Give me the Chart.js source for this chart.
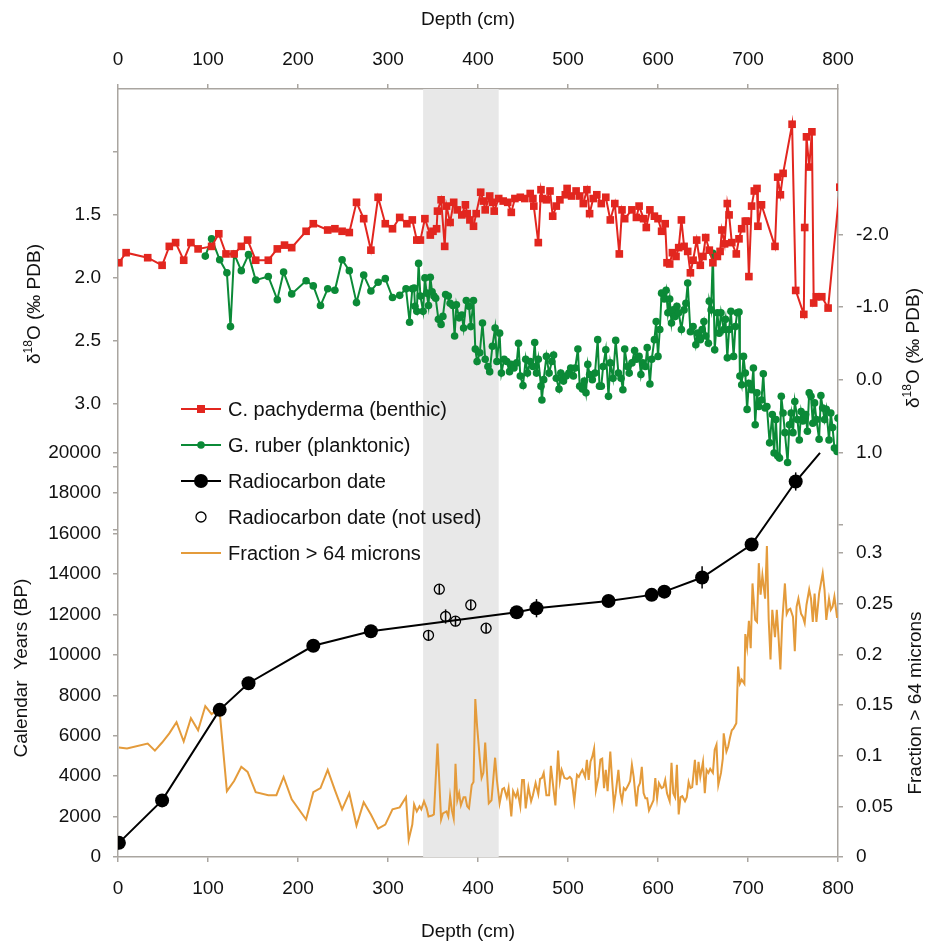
<!DOCTYPE html>
<html lang="en">
<head>
<meta charset="utf-8">
<title>Depth (cm)</title>
<script src="https://cdn.jsdelivr.net/npm/chart.js@4.4.1/dist/chart.umd.min.js"></script>
<style>
  html, body { margin: 0; padding: 0; background: #fff; }
  #grafico { display: block; }
</style>
</head>
<body>
<canvas id="grafico" width="925" height="941"></canvas>
<script>
// Datos (profundidad en cm)

// C. pachyderma (bentónico), δ18O ‰ PDB
const profBentonico = [1, 9, 33, 49, 57, 64, 73, 81, 89, 104, 112, 120, 129, 137, 144, 153, 167, 177, 185, 193,
  209, 217, 233, 241, 249, 257, 265, 273, 281, 289, 297, 305, 313, 321, 327, 332, 336, 341, 347, 350,
  354, 355, 359, 363, 365, 369, 373, 377, 382, 386, 388, 391, 395, 398, 403, 406, 408, 413, 416, 418,
  423, 428, 433, 437, 441, 447, 452, 458, 461, 462, 467, 470, 472, 476, 480, 483, 487, 491, 497, 499,
  504, 509, 513, 517, 521, 524, 528, 532, 537, 542, 547, 552, 557, 560, 563, 571, 576, 579, 584, 587,
  591, 596, 600, 604, 608, 610, 613, 616, 620, 623, 626, 629, 633, 636, 639, 643, 647, 650, 653, 657,
  661, 666, 669, 671, 674, 677, 679, 682, 687, 690, 693, 697, 699, 701, 704, 707, 710, 711, 715, 730,
  733, 736, 739, 749, 753, 762, 763, 765, 768, 771, 773, 776, 782, 789, 802];
const d18OBentonico = [1.88, 1.80, 1.84, 1.90, 1.75, 1.72, 1.86, 1.72, 1.77, 1.75, 1.65, 1.81, 1.81, 1.75, 1.70, 1.86, 1.86, 1.77, 1.74, 1.76,
  1.63, 1.57, 1.62, 1.61, 1.63, 1.64, 1.40, 1.53, 1.78, 1.36, 1.57, 1.61, 1.52, 1.57, 1.54, 1.70, 1.70, 1.53, 1.66, 1.63,
  1.61, 1.47, 1.38, 1.75, 1.43, 1.56, 1.40, 1.46, 1.50, 1.42, 1.49, 1.54, 1.59, 1.49, 1.32, 1.39, 1.46, 1.35, 1.40, 1.47,
  1.37, 1.39, 1.40, 1.48, 1.37, 1.36, 1.37, 1.33, 1.37, 1.43, 1.72, 1.30, 1.37, 1.38, 1.31, 1.51, 1.43, 1.38, 1.34, 1.29,
  1.35, 1.31, 1.35, 1.41, 1.30, 1.49, 1.37, 1.34, 1.41, 1.36, 1.54, 1.41, 1.81, 1.46, 1.53, 1.46, 1.52, 1.43, 1.53, 1.60,
  1.46, 1.51, 1.53, 1.63, 1.57, 1.88, 1.89, 1.80, 1.83, 1.76, 1.54, 1.75, 1.79, 1.96, 1.86, 1.70, 1.90, 1.83, 1.68, 1.78,
  1.88, 1.83, 1.79, 1.62, 1.73, 1.41, 1.50, 1.72, 1.81, 1.69, 1.61, 1.55, 1.55, 1.99, 1.43, 1.31, 1.29, 1.59, 1.42, 1.75,
  1.20, 1.34, 1.17, 0.78, 2.10, 2.29, 1.60, 0.88, 1.12, 0.84, 2.20, 2.15, 2.15, 2.24, 1.28];

// G. ruber (planctónico), δ18O ‰ PDB
const profPlanctonico = [97, 104, 113, 121, 125, 129, 137, 145, 153, 167, 177, 184, 193, 209, 217, 225, 233, 241, 249, 257,
  265, 273, 281, 289, 297, 305, 313, 320, 324, 327, 329, 330, 332, 334, 336, 339, 341, 343, 345, 347,
  349, 351, 353, 356, 359, 361, 364, 367, 369, 372, 374, 376, 379, 382, 384, 387, 390, 392, 395, 397,
  399, 402, 405, 408, 411, 413, 416, 419, 421, 424, 426, 429, 432, 435, 437, 440, 443, 445, 447, 450,
  453, 455, 458, 461, 463, 465, 467, 470, 471, 473, 476, 479, 482, 484, 487, 490, 492, 495, 498, 501,
  503, 506, 508, 511, 513, 516, 518, 520, 522, 524, 527, 530, 533, 535, 537, 539, 542, 545, 547, 550,
  553, 556, 559, 561, 563, 566, 568, 571, 574, 576, 579, 581, 583, 586, 588, 591, 593, 596, 598, 600,
  602, 604, 607, 609, 611, 613, 615, 617, 619, 621, 623, 626, 629, 631, 633, 636, 639, 642, 644, 647,
  649, 651, 653, 656, 657, 659, 661, 663, 666, 668, 670, 673, 675, 677, 679, 681, 684, 686, 688, 690,
  691, 693, 695, 697, 699, 701, 704, 706, 708, 710, 712, 715, 717, 719, 721, 724, 727, 729, 731, 733,
  735, 737, 739, 741, 744, 746, 748, 750, 752, 755, 757, 759, 761, 764, 766, 768, 770, 772, 774, 776,
  779, 781, 783, 785, 787, 790, 792, 794, 796, 799, 800];
const d18OPlanctonico = [-1.70, -1.94, -1.65, -1.47, -0.73, -1.73, -1.50, -1.72, -1.37, -1.42, -1.10, -1.48, -1.18, -1.36, -1.29, -1.02, -1.25, -1.23, -1.65, -1.50,
  -1.06, -1.44, -1.22, -1.34, -1.39, -1.13, -1.16, -1.25, -0.79, -1.25, -1.26, -1.01, -0.94, -1.60, -1.15, -0.94, -1.40, -1.19, -1.02, -1.41,
  -1.21, -1.15, -1.12, -0.83, -0.76, -0.87, -1.17, -1.15, -1.05, -1.02, -0.60, -1.03, -0.85, -0.89, -0.71, -1.09, -1.01, -0.73, -1.09, -0.42,
  -0.25, -0.37, -0.78, -0.28, -0.18, -0.11, -0.46, -0.71, -0.25, -0.64, -0.09, -0.28, -0.25, -0.11, -0.21, -0.16, -0.23, -0.50, -0.05, 0.08,
  -0.28, -0.09, -0.25, -0.18, -0.51, -0.09, -0.28, 0.09, 0.28, 0.00, -0.32, -0.09, -0.25, -0.34, -0.02, 0.13, -0.09, 0.02, -0.05, -0.09,
  -0.16, -0.05, -0.16, -0.42, 0.09, 0.13, 0.02, 0.18, -0.21, -0.07, 0.00, -0.09, -0.55, 0.09, 0.09, -0.18, -0.41, 0.23, -0.23, -0.02,
  -0.54, -0.09, -0.02, 0.14, -0.42, -0.18, -0.09, -0.23, -0.40, -0.28, -0.32, -0.07, -0.23, -0.18, -0.44, 0.06, -0.28, -0.55, -0.80, -0.32,
  -0.69, -1.19, -1.11, -1.23, -0.92, -1.11, -0.78, -0.96, -0.87, -1.01, -0.92, -0.69, -0.96, -1.05, -1.33, -0.66, -0.73, -0.48, -0.64, -0.55,
  -0.69, -0.80, -0.60, -0.50, -1.08, -0.96, -1.74, -0.41, -0.92, -0.64, -0.92, -0.69, -0.83, -0.30, -0.69, -0.94, -0.32, -0.73, -0.92, -0.93,
  -0.05, 0.07, -0.32, -0.09, 0.41, 0.05, 0.14, -0.16, 0.62, 0.18, 0.37, 0.28, -0.08, 0.39, 0.37, 0.87, 0.48, 1.01, 0.55, 1.05,
  1.08, 0.23, 0.46, 0.73, 1.14, 0.62, 0.46, 0.73, 0.30, 0.55, 0.83, 0.44, 0.57, 0.48, 0.71, 0.18, 0.23, 0.60, 0.32, 0.55,
  0.82, 0.22, 0.39, 0.55, 0.41, 0.83, 0.46, 0.66, 0.94, 0.99, 0.53];

// Fechas de radiocarbono usadas (años calendario BP) y su error
const profFechas = [1, 49, 113, 145, 217, 281, 443, 465, 545, 593, 607, 649, 704, 753];
const edadFechas = [700, 2800, 7280, 8600, 10450, 11170, 12110, 12310, 12670, 12970, 13130, 13830, 15460, 18580];
const errorFechas = [100, 100, 150, 150, 150, 150, 150, 450, 150, 150, 150, 550, 200, 450];
// la línea del modelo de edad sigue hasta el borde del panel
const finModelo = { prof: 780, edad: 20000 };

// Fechas no usadas
const profNoUsadas = [345, 357, 364, 375, 392, 409];
const edadNoUsadas = [10970, 13250, 11900, 11670, 12470, 11320];
const errorNoUsadas = [250, 250, 350, 250, 250, 250];

// Fracción > 64 micras
const profFraccion = [1, 10, 33, 41, 49, 57, 65, 73, 81, 89, 97, 104, 110, 113, 121, 129, 137, 144, 153, 167,
  176, 184, 193, 209, 217, 225, 233, 241, 249, 257, 265, 273, 281, 289, 297, 305, 313, 320, 323, 327,
  329, 332, 335, 337, 340, 343, 345, 349, 351, 355, 359, 361, 365, 367, 369, 371, 373, 375, 377, 379,
  381, 384, 386, 388, 390, 393, 395, 397, 399, 402, 404, 406, 408, 410, 412, 415, 419, 421, 424, 427,
  429, 432, 434, 437, 439, 442, 444, 447, 449, 451, 453, 456, 459, 461, 464, 467, 469, 471, 473, 476,
  479, 481, 484, 486, 489, 491, 493, 496, 499, 502, 504, 507, 510, 512, 514, 516, 519, 521, 523, 525,
  527, 529, 531, 534, 536, 538, 540, 542, 544, 547, 549, 551, 553, 556, 558, 560, 562, 564, 567, 569,
  571, 573, 576, 578, 580, 582, 584, 586, 588, 590, 592, 595, 597, 599, 601, 604, 606, 608, 610, 613,
  615, 617, 619, 621, 623, 625, 627, 630, 632, 634, 636, 638, 641, 643, 645, 647, 650, 652, 654, 656,
  658, 661, 663, 665, 667, 670, 672, 673, 676, 678, 680, 682, 684, 687, 689, 691, 693, 696, 697, 699,
  701, 703, 705, 708, 710, 712, 714, 716, 719, 721, 723, 725, 727, 730, 732, 734, 736, 738, 741, 743,
  745, 747, 750, 752, 754, 756, 759, 761, 763, 765, 768, 770, 772, 774, 776, 779, 781, 783, 785, 787,
  790, 792, 794, 796, 799];
const fraccion = [0.108, 0.107, 0.112, 0.105, 0.113, 0.122, 0.133, 0.114, 0.137, 0.125, 0.149, 0.141, 0.145, 0.143, 0.065, 0.075, 0.089, 0.084, 0.064, 0.061,
  0.061, 0.079, 0.057, 0.037, 0.064, 0.068, 0.086, 0.066, 0.047, 0.063, 0.031, 0.054, 0.042, 0.028, 0.032, 0.047, 0.049, 0.059, 0.017, 0.032,
  0.052, 0.045, 0.050, 0.047, 0.055, 0.048, 0.040, 0.041, 0.042, 0.112, 0.037, 0.043, 0.045, 0.040, 0.060, 0.046, 0.038, 0.092, 0.056, 0.063,
  0.051, 0.059, 0.059, 0.050, 0.048, 0.071, 0.074, 0.156, 0.129, 0.097, 0.078, 0.083, 0.113, 0.083, 0.053, 0.056, 0.098, 0.076, 0.053, 0.067,
  0.068, 0.059, 0.068, 0.040, 0.065, 0.059, 0.065, 0.050, 0.076, 0.076, 0.048, 0.069, 0.055, 0.061, 0.073, 0.062, 0.077, 0.078, 0.083, 0.061,
  0.061, 0.090, 0.066, 0.051, 0.105, 0.075, 0.086, 0.078, 0.077, 0.079, 0.077, 0.055, 0.081, 0.079, 0.083, 0.086, 0.079, 0.096, 0.076, 0.094,
  0.099, 0.107, 0.066, 0.079, 0.096, 0.097, 0.068, 0.086, 0.065, 0.104, 0.076, 0.051, 0.063, 0.086, 0.064, 0.055, 0.068, 0.066, 0.071, 0.075,
  0.091, 0.079, 0.050, 0.069, 0.073, 0.089, 0.063, 0.058, 0.058, 0.046, 0.050, 0.056, 0.078, 0.058, 0.073, 0.068, 0.069, 0.076, 0.063, 0.055,
  0.093, 0.063, 0.059, 0.091, 0.042, 0.059, 0.060, 0.055, 0.059, 0.074, 0.068, 0.069, 0.096, 0.071, 0.094, 0.079, 0.094, 0.063, 0.086, 0.083,
  0.087, 0.083, 0.106, 0.111, 0.071, 0.083, 0.097, 0.122, 0.104, 0.109, 0.118, 0.125, 0.127, 0.132, 0.188, 0.171, 0.175, 0.171, 0.220, 0.207,
  0.233, 0.206, 0.270, 0.234, 0.232, 0.290, 0.259, 0.278, 0.255, 0.307, 0.234, 0.195, 0.244, 0.217, 0.244, 0.216, 0.185, 0.232, 0.270, 0.240,
  0.244, 0.245, 0.237, 0.203, 0.247, 0.255, 0.240, 0.237, 0.231, 0.249, 0.264, 0.255, 0.232, 0.260, 0.232, 0.260, 0.270, 0.280, 0.264, 0.234,
  0.255, 0.244, 0.247, 0.257, 0.236];

// Intervalo sombreado (cm)
const zonaSombreada = [339, 423];

// Ticks de los ejes
const ticksProfundidad = [0, 100, 200, 300, 400, 500, 600, 700, 800];
const ticksBentonico = [1.0, 1.5, 2.0, 2.5, 3.0, 3.5, 4.0];
const etiquetasBentonico = ['', '1.5', '2.0', '2.5', '3.0', '', ''];
const ticksEdad = [0, 2000, 4000, 6000, 8000, 10000, 12000, 14000, 16000, 18000, 20000];
const ticksPlanctonico = [-2, -1, 0, 1, 2];
const etiquetasPlanctonico = ['-2.0', '-1.0', '0.0', '1.0', ''];
const ticksFraccion = [0, 0.05, 0.1, 0.15, 0.2, 0.25, 0.3];
const etiquetasFraccion = ['0', '0.05', '0.1', '0.15', '0.2', '0.25', '0.3'];

// Rangos de cada eje (todos ocupan el alto completo del gráfico)
const rangoBentonico = [0.5, 6.6];
const rangoPlanctonico = [-4.0, 6.57];
const rangoEdad = [0, 38000];
const rangoFraccion = [0, 0.758];

const FUENTE = '"Liberation Sans", Arial, Helvetica, sans-serif';
const GRIS = '#a9a5a0';
const TEXTO = '#111111';
const ROJO = '#e2261f';
const VERDE = '#0b8a37';
const NARANJA = '#e49b3b';

const puntos = (xs, ys) => xs.map((x, i) => ({ x: x, y: ys[i] }));

// Pasa un valor de un eje invertido al valor equivalente en otro eje normal
const equivalente = (v, rangoInv, rangoNormal) => {
  const t = (v - rangoInv[0]) / (rangoInv[1] - rangoInv[0]);
  return rangoNormal[0] + (1 - t) * (rangoNormal[1] - rangoNormal[0]);
};

const ticksIzq = ticksBentonico.map((v, i) => ({ value: equivalente(v, rangoBentonico, rangoEdad), label: etiquetasBentonico[i] }))
  .concat(ticksEdad.map(v => ({ value: v, label: String(v) })));
const ticksDer = ticksPlanctonico.map((v, i) => ({ value: equivalente(v, rangoPlanctonico, rangoFraccion), label: etiquetasPlanctonico[i] }))
  .concat(ticksFraccion.map((v, i) => ({ value: v, label: etiquetasFraccion[i] })));

// Sombra gris detrás de las series
const pluginSombra = {
  id: 'sombra',
  beforeDatasetsDraw(chart) {
    const { ctx, chartArea, scales } = chart;
    const x1 = scales.x.getPixelForValue(zonaSombreada[0]);
    const x2 = scales.x.getPixelForValue(zonaSombreada[1]);
    ctx.save();
    ctx.fillStyle = '#e8e8e8';
    ctx.fillRect(x1, chartArea.top, x2 - x1, chartArea.bottom - chartArea.top);
    ctx.restore();
  }
};

// Barras de error de las fechas
const pluginErrores = {
  id: 'errores',
  afterDatasetsDraw(chart) {
    const { ctx, scales } = chart;
    ctx.save();
    ctx.strokeStyle = '#000';
    ctx.lineWidth = 1.5;
    const dibujar = (profs, edades, errores) => {
      profs.forEach((p, i) => {
        const x = scales.x.getPixelForValue(p);
        ctx.beginPath();
        ctx.moveTo(x, scales.yIzq.getPixelForValue(edades[i] - errores[i]));
        ctx.lineTo(x, scales.yIzq.getPixelForValue(edades[i] + errores[i]));
        ctx.stroke();
      });
    };
    dibujar(profFechas, edadFechas, errorFechas);
    dibujar(profNoUsadas, edadNoUsadas, errorNoUsadas);
    ctx.restore();
  }
};

// Texto girado con partes de distinto tamaño (para el superíndice)
function textoVertical(ctx, partes, xBase, yCentro) {
  ctx.save();
  ctx.translate(xBase, yCentro);
  ctx.rotate(-Math.PI / 2);
  ctx.textBaseline = 'alphabetic';
  ctx.textAlign = 'left';
  let ancho = 0;
  partes.forEach(p => { ctx.font = p.tam + 'px ' + FUENTE; ancho += ctx.measureText(p.t).width; });
  let x = -ancho / 2;
  partes.forEach(p => {
    ctx.font = p.tam + 'px ' + FUENTE;
    ctx.fillText(p.t, x, -(p.sube || 0));
    x += ctx.measureText(p.t).width;
  });
  ctx.restore();
}

const tituloD18O = [{ t: 'δ', tam: 19 }, { t: '18', tam: 12, sube: 8 }, { t: 'O (‰ PDB)', tam: 19 }];

const pluginTitulos = {
  id: 'titulos',
  afterDraw(chart) {
    const ctx = chart.ctx;
    ctx.save();
    ctx.fillStyle = TEXTO;
    ctx.font = '19px ' + FUENTE;
    ctx.textAlign = 'center';
    ctx.textBaseline = 'alphabetic';
    ctx.fillText('Depth (cm)', 468, 25);
    ctx.fillText('Depth (cm)', 468, 937);
    textoVertical(ctx, tituloD18O, 40, 304);
    textoVertical(ctx, [{ t: 'Calendar  Years (BP)', tam: 19 }], 27, 668);
    textoVertical(ctx, tituloD18O, 919, 348);
    textoVertical(ctx, [{ t: 'Fraction > 64 microns', tam: 19 }], 921, 703);
    ctx.restore();
  }
};

// Leyenda dentro del área del gráfico
const pluginLeyenda = {
  id: 'leyendaPropia',
  afterDraw(chart) {
    const ctx = chart.ctx;
    const items = [
      { texto: 'C. pachyderma (benthic)', color: ROJO, linea: true, marca: 'rect', r: 4 },
      { texto: 'G. ruber (planktonic)', color: VERDE, linea: true, marca: 'circle', r: 3.8 },
      { texto: 'Radiocarbon date', color: '#000', linea: true, marca: 'circle', r: 7 },
      { texto: 'Radiocarbon date (not used)', color: '#000', linea: false, marca: 'open', r: 5 },
      { texto: 'Fraction > 64 microns', color: NARANJA, linea: true, marca: null }
    ];
    ctx.save();
    items.forEach((it, i) => {
      const y = 409 + i * 36;
      if (it.linea) {
        ctx.strokeStyle = it.color;
        ctx.lineWidth = 2;
        ctx.beginPath();
        ctx.moveTo(181, y);
        ctx.lineTo(221, y);
        ctx.stroke();
      }
      ctx.fillStyle = it.color;
      ctx.strokeStyle = it.color;
      if (it.marca === 'rect') {
        ctx.fillRect(201 - it.r, y - it.r, it.r * 2, it.r * 2);
      } else if (it.marca === 'circle') {
        ctx.beginPath();
        ctx.arc(201, y, it.r, 0, Math.PI * 2);
        ctx.fill();
      } else if (it.marca === 'open') {
        ctx.lineWidth = 1.3;
        ctx.beginPath();
        ctx.arc(201, y, it.r, 0, Math.PI * 2);
        ctx.stroke();
      }
      ctx.fillStyle = TEXTO;
      ctx.font = '20px ' + FUENTE;
      ctx.textAlign = 'left';
      ctx.textBaseline = 'middle';
      ctx.fillText(it.texto, 228, y + 1);
    });
    ctx.restore();
  }
};

function crearGrafico() {
  const ctx = document.getElementById('grafico').getContext('2d');

  const rejilla = { display: true, drawOnChartArea: false, drawTicks: true, tickLength: 5, color: GRIS, lineWidth: 1.5 };
  const borde = { display: true, color: GRIS, width: 1.5 };
  const fuenteTicks = { family: FUENTE, size: 19 };

  new Chart(ctx, {
    type: 'line',
    data: {
      datasets: [
        {
          label: 'Radiocarbon date',
          data: puntos(profFechas, edadFechas).concat([{ x: finModelo.prof, y: finModelo.edad }]),
          yAxisID: 'yIzq',
          borderColor: '#000',
          backgroundColor: '#000',
          borderWidth: 2,
          pointRadius: c => (c.dataIndex < profFechas.length ? 7 : 0),
          pointBackgroundColor: '#000',
          pointBorderWidth: 0,
          order: 0
        },
        {
          label: 'Radiocarbon date (not used)',
          data: puntos(profNoUsadas, edadNoUsadas),
          yAxisID: 'yIzq',
          showLine: false,
          pointRadius: 5,
          pointBackgroundColor: 'rgba(0,0,0,0)',
          pointBorderColor: '#000',
          pointBorderWidth: 1.3,
          order: 1
        },
        {
          label: 'C. pachyderma (benthic)',
          data: puntos(profBentonico, d18OBentonico),
          yAxisID: 'yBent',
          borderColor: ROJO,
          backgroundColor: ROJO,
          borderWidth: 2,
          pointStyle: 'rect',
          pointRadius: 5.4,
          pointBorderWidth: 0,
          order: 2
        },
        {
          label: 'G. ruber (planktonic)',
          data: puntos(profPlanctonico, d18OPlanctonico),
          yAxisID: 'yPlanc',
          borderColor: VERDE,
          backgroundColor: VERDE,
          borderWidth: 2,
          pointStyle: 'circle',
          pointRadius: 3.8,
          pointBorderWidth: 0,
          order: 3
        },
        {
          label: 'Fraction > 64 microns',
          data: puntos(profFraccion, fraccion),
          yAxisID: 'yDer',
          borderColor: NARANJA,
          borderWidth: 2,
          pointRadius: 0,
          order: 4
        }
      ]
    },
    options: {
      responsive: false,
      animation: false,
      layout: { padding: 0 },
      elements: { line: { tension: 0 } },
      plugins: {
        legend: { display: false },
        tooltip: { enabled: false }
      },
      scales: {
        x: {
          type: 'linear', position: 'bottom', min: 0, max: 800,
          grid: rejilla, border: borde,
          afterBuildTicks: s => { s.ticks = ticksProfundidad.map(v => ({ value: v })); },
          ticks: { color: TEXTO, font: fuenteTicks, padding: 15, maxRotation: 0, autoSkip: false },
          afterFit: s => { s.height = 84; }
        },
        xArriba: {
          type: 'linear', position: 'top', min: 0, max: 800,
          grid: rejilla, border: borde,
          afterBuildTicks: s => { s.ticks = ticksProfundidad.map(v => ({ value: v })); },
          ticks: { color: TEXTO, font: fuenteTicks, padding: 13, maxRotation: 0, autoSkip: false },
          afterFit: s => { s.height = 89; }
        },
        yIzq: {
          type: 'linear', position: 'left', min: rangoEdad[0], max: rangoEdad[1],
          grid: rejilla, border: borde,
          afterBuildTicks: s => { s.ticks = ticksIzq.map(t => ({ value: t.value })); },
          ticks: { color: TEXTO, font: fuenteTicks, padding: 12, autoSkip: false, callback: (v, i) => ticksIzq[i].label },
          afterFit: s => { s.width = 118; }
        },
        yDer: {
          type: 'linear', position: 'right', min: rangoFraccion[0], max: rangoFraccion[1],
          grid: rejilla, border: borde,
          afterBuildTicks: s => { s.ticks = ticksDer.map(t => ({ value: t.value })); },
          ticks: { color: TEXTO, font: fuenteTicks, padding: 13, autoSkip: false, callback: (v, i) => ticksDer[i].label },
          afterFit: s => { s.width = 87; }
        },
        yBent: {
          type: 'linear', display: false, reverse: true,
          min: rangoBentonico[0], max: rangoBentonico[1]
        },
        yPlanc: {
          type: 'linear', display: false, reverse: true,
          min: rangoPlanctonico[0], max: rangoPlanctonico[1]
        }
      }
    },
    plugins: [pluginSombra, pluginErrores, pluginTitulos, pluginLeyenda]
  });
}

document.addEventListener('DOMContentLoaded', function () {
  crearGrafico();
});
</script>
</body>
</html>
